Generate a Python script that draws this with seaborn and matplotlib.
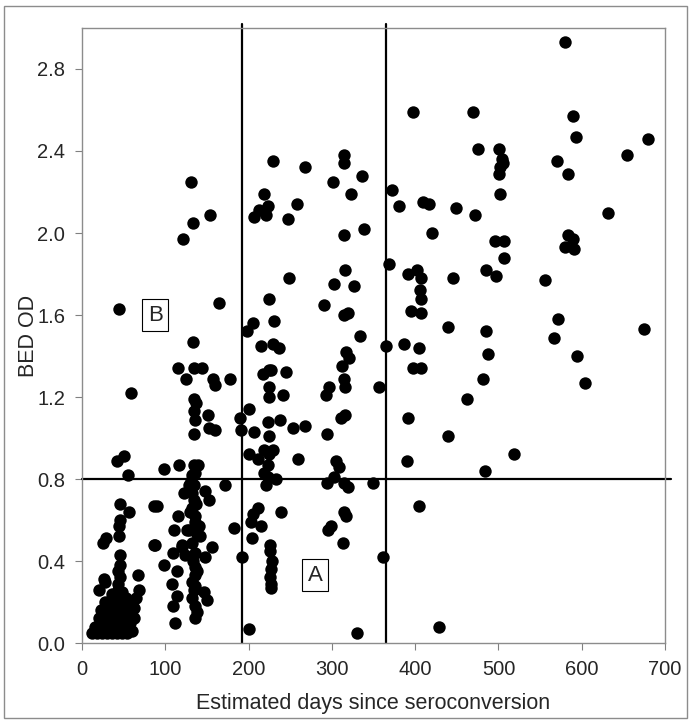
import matplotlib
matplotlib.use("Agg")
import matplotlib.pyplot as plt
import seaborn as sns
import pandas as pd
import numpy as np
from matplotlib.patches import Rectangle

# BED OD vs estimated days since seroconversion

# early samples, < 90 days
days_a = [12, 18, 24, 30, 36, 42, 48, 54, 60, 15, 22, 28, 34, 40, 46, 52, 58,
          20, 26, 32, 38, 44, 50, 56, 63, 23, 30, 36, 42, 48, 55, 62,
          28, 35, 41, 47, 53, 60, 20, 36, 43, 48, 65, 68,
          26, 28, 43, 45, 67, 43, 45, 45, 25, 29, 44, 44, 45, 45, 57,
          42, 51, 55, 44, 59, 87, 87]
od_a = [0.05, 0.05, 0.05, 0.05, 0.05, 0.05, 0.05, 0.05, 0.06, 0.08, 0.09, 0.08, 0.09, 0.08, 0.09, 0.08, 0.10,
        0.12, 0.13, 0.12, 0.13, 0.12, 0.13, 0.14, 0.12, 0.16, 0.17, 0.16, 0.18, 0.17, 0.18, 0.17,
        0.20, 0.21, 0.22, 0.21, 0.22, 0.20, 0.26, 0.24, 0.26, 0.25, 0.22, 0.26,
        0.31, 0.30, 0.29, 0.32, 0.33, 0.35, 0.38, 0.43, 0.49, 0.51, 0.52, 0.57, 0.60, 0.68, 0.64,
        0.89, 0.91, 0.82, 1.63, 1.22, 0.67, 0.48]

# 90 - 190 days
days_b = [131, 154, 133, 121, 165, 133, 115, 125, 135, 144, 157, 160, 178, 134, 137, 135,
          136, 151, 152, 160, 135, 190, 191,
          99, 117, 134, 139, 132, 172, 128, 134, 123, 132, 148, 152,
          90, 132, 115, 136, 136, 111, 128, 138, 142, 183, 88, 120, 132, 156, 109, 124,
          136, 148, 99, 136, 114, 136, 108, 132, 136, 146, 114, 132, 150, 136, 109, 136, 112,
          134, 137, 130, 140, 133, 138, 134, 138, 131, 136, 126, 120]
od_b = [2.25, 2.09, 2.05, 1.97, 1.66, 1.47, 1.34, 1.29, 1.34, 1.34, 1.29, 1.26, 1.29, 1.19, 1.17, 1.13,
        1.09, 1.11, 1.05, 1.04, 1.02, 1.10, 1.04,
        0.85, 0.87, 0.87, 0.87, 0.82, 0.77, 0.77, 0.77, 0.73, 0.73, 0.74, 0.70,
        0.67, 0.66, 0.62, 0.62, 0.59, 0.55, 0.55, 0.53, 0.52, 0.56, 0.48, 0.48, 0.49, 0.47, 0.44, 0.43,
        0.44, 0.42, 0.38, 0.37, 0.35, 0.33, 0.29, 0.30, 0.28, 0.25, 0.23, 0.22, 0.21, 0.18, 0.18, 0.12, 0.10,
        0.70, 0.68, 0.64, 0.57, 0.40, 0.35, 0.26, 0.15, 0.79, 0.83, 0.55, 0.47]

# 190 - 365 days
days_c = [229, 268, 315, 315, 336, 301, 323, 219, 212, 223, 207, 221, 258, 247, 315, 338,
          316, 249, 302, 326, 225, 290, 319, 315, 205, 198, 230, 215, 229, 237, 334, 317,
          321, 312, 217, 224, 227, 245, 315, 225, 224, 241, 316, 297, 293, 357, 201, 223,
          238, 207, 224, 253, 268, 294, 311, 316,
          200, 211, 219, 229, 225, 259, 223, 218, 223, 233, 221, 305, 309, 303, 294, 314,
          319, 349,
          211, 205, 203, 215, 239, 204, 192, 226, 226, 228, 227, 226, 227, 227, 315, 317,
          299, 295, 313, 361, 200, 330]
od_c = [2.35, 2.32, 2.38, 2.34, 2.28, 2.25, 2.19, 2.19, 2.11, 2.13, 2.08, 2.09, 2.14, 2.07, 1.99, 2.02,
        1.82, 1.78, 1.75, 1.74, 1.68, 1.65, 1.61, 1.60, 1.56, 1.52, 1.57, 1.45, 1.46, 1.44, 1.50, 1.42,
        1.39, 1.35, 1.31, 1.33, 1.33, 1.32, 1.29, 1.25, 1.20, 1.21, 1.25, 1.25, 1.21, 1.25, 1.14, 1.08,
        1.09, 1.03, 1.01, 1.05, 1.06, 1.02, 1.10, 1.11,
        0.92, 0.90, 0.94, 0.94, 0.92, 0.90, 0.87, 0.83, 0.81, 0.80, 0.77, 0.89, 0.86, 0.81, 0.78, 0.78,
        0.76, 0.78,
        0.66, 0.63, 0.59, 0.57, 0.64, 0.51, 0.42, 0.48, 0.45, 0.40, 0.36, 0.32, 0.29, 0.27, 0.64, 0.62,
        0.57, 0.55, 0.49, 0.42, 0.07, 0.05]

# > 365 days
days_d = [580, 397, 470, 589, 593, 679, 476, 501, 504, 505, 502, 501, 570, 583, 654, 372,
          381, 410, 417, 449, 472, 502, 632, 420, 496, 507, 507, 584, 590, 580, 591, 368,
          402, 392, 407, 446, 485, 497, 556, 406, 407, 395, 407, 440, 485, 572, 567, 675,
          365, 387, 405, 488, 594, 397, 407, 482, 604, 462, 392, 440, 390, 519, 484, 405, 429]
od_d = [2.93, 2.59, 2.59, 2.57, 2.47, 2.46, 2.41, 2.41, 2.36, 2.34, 2.32, 2.29, 2.35, 2.29, 2.38, 2.21,
        2.13, 2.15, 2.14, 2.12, 2.09, 2.19, 2.10, 2.00, 1.96, 1.96, 1.88, 1.99, 1.97, 1.93, 1.92, 1.85,
        1.82, 1.80, 1.78, 1.78, 1.82, 1.79, 1.77, 1.72, 1.68, 1.62, 1.61, 1.54, 1.52, 1.58, 1.49, 1.53,
        1.45, 1.46, 1.44, 1.41, 1.40, 1.34, 1.34, 1.29, 1.27, 1.19, 1.10, 1.01, 0.89, 0.92, 0.84, 0.67, 0.08]

cutoff_days = [192, 365]
cutoff_od = 0.8

df = pd.DataFrame({'days': days_a + days_b + days_c + days_d,
                   'od': od_a + od_b + od_c + od_d})

sns.set_style('white')
plt.rcParams['font.family'] = ['Liberation Sans', 'DejaVu Sans']

fig = plt.figure(figsize=(6.91, 7.27), dpi=100)
ax = fig.add_axes([0.1187, 0.1155, 0.8437, 0.846])

sns.scatterplot(data=df, x='days', y='od', color='black', s=80, linewidth=0, ax=ax, zorder=3)

# cut-off lines
for d in cutoff_days:
    ax.axvline(d, ymax=1.006, color='black', lw=1.6, zorder=2, clip_on=False)
ax.axhline(cutoff_od, xmax=1.01, color='black', lw=1.6, zorder=2, clip_on=False)

ax.text(88, 1.60, 'B', fontsize=16, ha='center', va='center',
        bbox=dict(boxstyle='square,pad=0.25', fc='white', ec='black', lw=0.8))
ax.text(280, 0.33, 'A', fontsize=16, ha='center', va='center',
        bbox=dict(boxstyle='square,pad=0.25', fc='white', ec='black', lw=0.8))

ax.set_xlim(0, 700)
ax.set_ylim(0, 3.0)
ax.set_xticks(range(0, 701, 100))
ax.set_yticks(np.arange(0, 2.81, 0.4))
ax.set_yticklabels([f'{v:.1f}' for v in np.arange(0, 2.81, 0.4)])
ax.tick_params(direction='out', length=5, width=0.8, color='#808080', labelsize=14.5, pad=7,
               bottom=True, left=True)
for sp in ax.spines.values():
    sp.set_color('#8c8c8c')
    sp.set_linewidth(1.0)

ax.set_xlabel('Estimated days since seroconversion', fontsize=15.5, labelpad=10)
ax.set_ylabel('BED OD', fontsize=15.5, labelpad=-1)

fig.patches.append(Rectangle((0.006, 0.012), 0.988, 0.98, transform=fig.transFigure,
                             fill=False, ec='#8c8c8c', lw=1.0))

fig.savefig('out.png', dpi=100)
